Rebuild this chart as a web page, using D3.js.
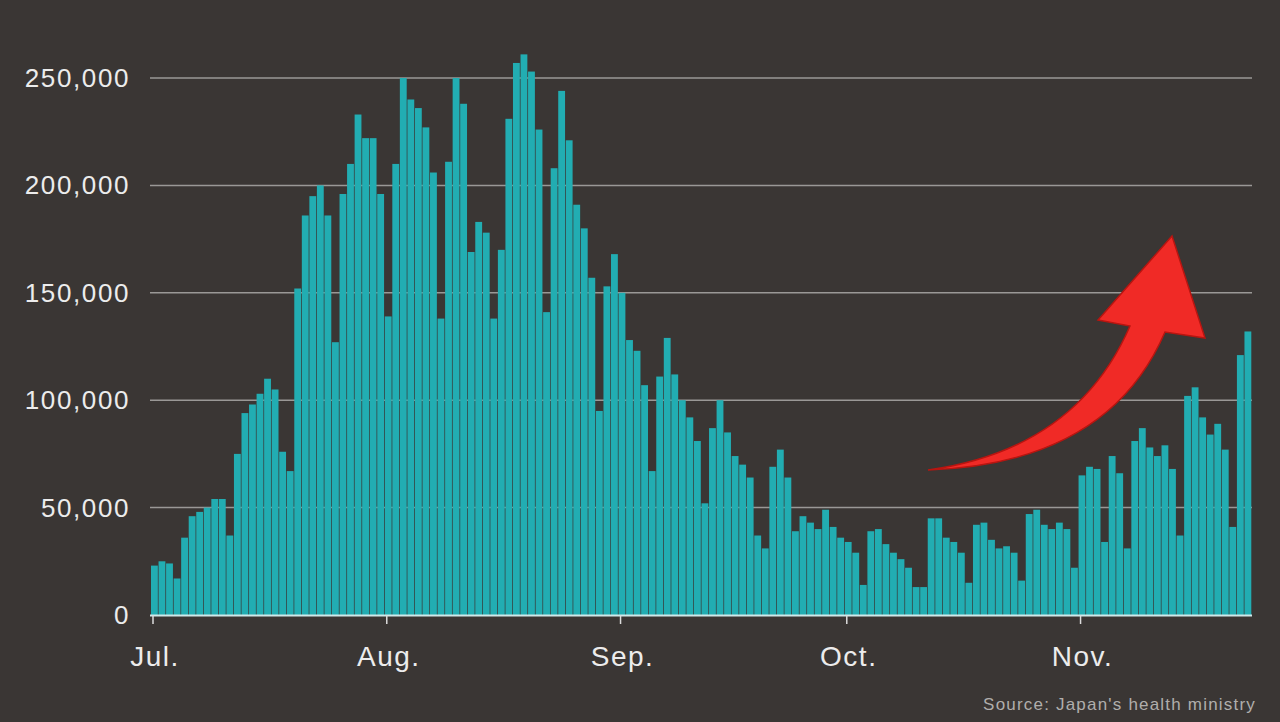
<!DOCTYPE html>
<html><head><meta charset="utf-8">
<script src="https://cdn.jsdelivr.net/npm/d3@7"></script>
<style>html,body{margin:0;padding:0;background:#3a3634;}svg{display:block}</style>
</head><body><svg id="c" width="1280" height="722"></svg>
<script>
const jul=[23,25,24,17,36,46,48,50,54,54,37,75,94,98,103,110,105,76,67,152,186,195,200,186,127,196,210,233,222,222,196];
const aug=[139,210,250,240,236,227,206,138,211,250,238,169,183,178,138,170,231,257,261,253,226,141,208,244,221,191,180,157,95,153,168];
const sep=[150,128,123,107,67,111,129,112,100,92,81,52,87,100,85,74,70,64,37,31,69,77,64,39,46,43,40,49,41,36];
const oct=[34,29,14,39,40,33,29,26,22,13,13,45,45,36,34,29,15,42,43,35,31,32,29,16,47,49,42,40,43,40,22];
const nov=[65,69,68,34,74,66,31,81,87,78,74,79,68,37,102,106,92,84,89,77,41,121,132];
const months=[{m:6,label:"Jul.",v:jul},{m:7,label:"Aug.",v:aug},{m:8,label:"Sep.",v:sep},{m:9,label:"Oct.",v:oct},{m:10,label:"Nov.",v:nov}];
const yTicks=[0,50000,100000,150000,200000,250000];
const source="Source: Japan's health ministry";

const data=[];
months.forEach(o=>o.v.forEach((v,i)=>data.push({d:new Date(2022,o.m,i+1),v:v*1000})));
const svg=d3.select("#c");
const x=d3.scaleTime().domain([new Date(2022,6,1),new Date(2022,10,24)]).range([151,1252]);
const y=d3.scaleLinear().domain([0,250000]).range([615,78]);
const bw=(x(new Date(2022,6,2))-x(new Date(2022,6,1)));
const font="Liberation Sans, Arial";

svg.append("g").selectAll("line").data(yTicks.slice(1)).join("line")
 .attr("x1",150).attr("x2",1252).attr("y1",d=>y(d)).attr("y2",d=>y(d))
 .attr("stroke","#9a9896").attr("stroke-width",1.5);
svg.append("g").selectAll("text").data(yTicks).join("text")
 .attr("x",130).attr("y",d=>y(d)+9).attr("text-anchor","end")
 .attr("fill","#ececec").attr("font-family",font).attr("font-size",26).attr("letter-spacing",1.6)
 .text(d3.format(","));

svg.append("g").selectAll("rect").data(data).join("rect")
 .attr("x",d=>x(d.d)).attr("width",bw-0.7)
 .attr("y",d=>y(d.v)).attr("height",d=>y(0)-y(d.v))
 .attr("fill","#22adb2");

svg.append("line").attr("x1",150).attr("x2",1252).attr("y1",615.5).attr("y2",615.5).attr("stroke","#cfe9ea").attr("stroke-width",2);
const mt=months.map(o=>new Date(2022,o.m,1));
svg.append("g").selectAll("line").data(mt).join("line")
 .attr("x1",d=>x(d)+2).attr("x2",d=>x(d)+2).attr("y1",615).attr("y2",624).attr("stroke","#dcdcdc").attr("stroke-width",1.5);
svg.append("g").selectAll("text").data(months).join("text")
 .attr("x",o=>x(new Date(2022,o.m,1))+4).attr("y",666).attr("text-anchor","middle")
 .attr("fill","#ececec").attr("font-family",font).attr("font-size",28).attr("letter-spacing",1.5)
 .text(o=>o.label);
svg.append("text").attr("x",1256).attr("y",710).attr("text-anchor","end")
 .attr("fill","#b0aeac").attr("font-family",font).attr("font-size",17).attr("letter-spacing",1.2).text(source);

// red arrow annotation
svg.append("path")
 .attr("d","M928,470 C1015,458 1090,418 1130,326 L1098,320 L1172,236 L1205,338 L1165,332 C1125,425 1040,466 928,470 Z")
 .attr("fill","#f02a26").attr("stroke","#b81510").attr("stroke-width",1.5);
</script></body></html>
